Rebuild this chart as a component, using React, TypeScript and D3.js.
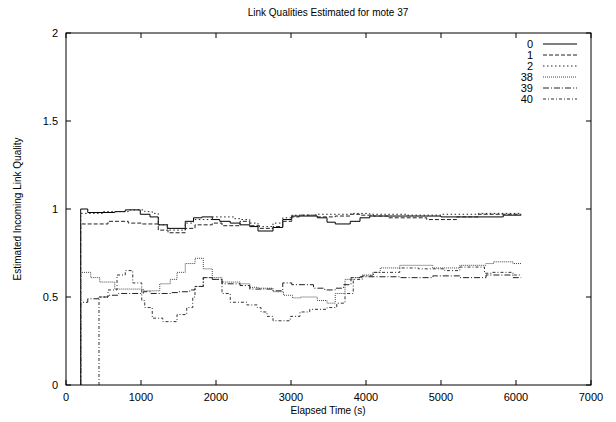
import React from 'react';
import * as d3 from 'd3';

const W = 616;
const H = 422;

const titleText = 'Link Qualities Estimated for mote 37';
const xLabel = 'Elapsed Time (s)';
const yLabel = 'Estimated Incoming Link Quality';

const xTicks = [0, 1000, 2000, 3000, 4000, 5000, 6000, 7000];
const yTicks = [0, 0.5, 1, 1.5, 2];
const yTickLabels = ['0', '0.5', '1', '1.5', '2'];

const seriesNames = ['0', '1', '2', '38', '39', '40'];
const endTime = 6070;

const s0: [number, number][] = [
  [196, 1.0], [290, 0.98], [650, 0.985], [790, 0.995], [990, 0.97], [1120, 0.955],
  [1230, 0.91], [1350, 0.89], [1590, 0.93], [1700, 0.95], [1810, 0.955], [1950, 0.94],
  [2050, 0.93], [2190, 0.92], [2320, 0.91], [2450, 0.9], [2560, 0.875], [2760, 0.895],
  [2890, 0.94], [3010, 0.96], [3350, 0.95], [3480, 0.925], [3590, 0.915], [3790, 0.93],
  [3920, 0.95], [4050, 0.96], [5000, 0.955], [5830, 0.965],
];
const s1: [number, number][] = [
  [196, 0.915], [560, 0.93], [830, 0.92], [1010, 0.915], [1230, 0.88], [1360, 0.865],
  [1590, 0.89], [1720, 0.91], [1950, 0.92], [2080, 0.905], [2320, 0.93], [2450, 0.905],
  [2580, 0.89], [2760, 0.9], [2890, 0.93], [3010, 0.955], [3110, 0.965], [3350, 0.955],
  [3590, 0.96], [3790, 0.97], [3920, 0.965], [4100, 0.96], [4300, 0.95], [4810, 0.94],
  [5210, 0.955], [5500, 0.97],
];
const s2: [number, number][] = [
  [196, 0.975], [500, 0.985], [830, 0.995], [1050, 0.985], [1150, 0.975], [1230, 0.91],
  [1360, 0.88], [1590, 0.92], [1700, 0.94], [1950, 0.955], [2250, 0.945], [2320, 0.94],
  [2450, 0.92], [2560, 0.9], [2760, 0.92], [2890, 0.95], [3010, 0.965], [3350, 0.97],
  [3800, 0.975], [4050, 0.97], [4540, 0.965], [5000, 0.97], [5500, 0.975],
];
const s38: [number, number][] = [
  [196, 0.64], [330, 0.61], [450, 0.585], [650, 0.545], [1030, 0.535], [1250, 0.575],
  [1390, 0.6], [1480, 0.64], [1590, 0.69], [1720, 0.72], [1830, 0.66], [1950, 0.61],
  [2080, 0.585], [2320, 0.575], [2450, 0.555], [2560, 0.55], [2760, 0.53], [2900, 0.51],
  [3020, 0.495], [3130, 0.5], [3350, 0.48], [3480, 0.465], [3590, 0.52], [3720, 0.6],
  [3830, 0.61], [3950, 0.625], [4090, 0.64], [4190, 0.665], [4450, 0.68], [4890, 0.665],
  [5250, 0.68], [5600, 0.69], [5700, 0.7], [5960, 0.69],
];
const s39: [number, number][] = [
  [196, 0.47], [290, 0.49], [430, 0.5], [560, 0.51], [700, 0.52], [1030, 0.53],
  [1130, 0.52], [1400, 0.525], [1500, 0.53], [1650, 0.54], [1720, 0.56], [1830, 0.61],
  [1950, 0.6], [2080, 0.575], [2320, 0.565], [2450, 0.545], [2760, 0.535], [2890, 0.58],
  [3010, 0.57], [3300, 0.55], [3450, 0.54], [3590, 0.55], [3700, 0.57], [3800, 0.61],
  [3920, 0.615], [4450, 0.61], [4890, 0.62], [5250, 0.61], [5600, 0.625], [5960, 0.61],
];
const s40: [number, number][] = [
  [440, 0.5], [560, 0.54], [680, 0.625], [790, 0.65], [890, 0.58], [1010, 0.48],
  [1050, 0.44], [1150, 0.38], [1290, 0.36], [1480, 0.4], [1610, 0.44], [1690, 0.5],
  [1720, 0.56], [1830, 0.61], [1950, 0.6], [2080, 0.52], [2190, 0.47], [2410, 0.455],
  [2550, 0.44], [2600, 0.415], [2680, 0.39], [2760, 0.365], [2990, 0.39], [3120, 0.415],
  [3250, 0.43], [3480, 0.44], [3610, 0.465], [3720, 0.52], [3830, 0.6], [3950, 0.62],
  [4100, 0.64], [4450, 0.665], [4700, 0.66], [5050, 0.65], [5250, 0.67], [5580, 0.635],
  [5690, 0.64], [5960, 0.625],
];

const allSeries = [s0, s1, s2, s38, s39, s40];
const dashStyles = ['', '4,2', '1.5,2.5', '1,1', '6,2,1,2', '3,2,1,2'];
const strokeColors = ['#000', '#222', '#222', '#444', '#222', '#333'];

const FONT = '"Liberation Sans", Arial, Helvetica, sans-serif';

export default function App() {
  const left = 66, right = 591, top = 33, bottom = 385;
  const x = d3.scaleLinear().domain([0, 7000]).range([left, right]);
  const y = d3.scaleLinear().domain([0, 2]).range([bottom, top]);
  const line = d3
    .line<[number, number]>()
    .x((d) => x(d[0]))
    .y((d) => y(d[1]))
    .curve(d3.curveStepAfter);

  const paths = allSeries.map((s) => {
    const pts: [number, number][] = [[s[0][0], 0], ...s, [endTime, s[s.length - 1][1]]];
    return line(pts) || '';
  });

  const tickLen = 5;
  const legendX = 533;
  const legendY0 = 44;
  const legendDy = 11;

  return (
    <svg
      width={W}
      height={H}
      style={{ position: 'absolute', left: 0, top: 0, background: '#fff' }}
      fontFamily={FONT}
    >
      <rect x={0} y={0} width={W} height={H} fill="#fff" />
      <text x={328} y={16} fontSize={10} textAnchor="middle" fill="#000">{titleText}</text>
      {/* data */}
      <g fill="none">
        {paths.map((d, i) => (
          <path
            key={i}
            d={d}
            stroke={strokeColors[i]}
            strokeWidth={1}
            strokeDasharray={dashStyles[i] || undefined}
          />
        ))}
      </g>
      {/* frame */}
      <rect x={left} y={top} width={right - left} height={bottom - top} fill="none" stroke="#000" strokeWidth={1} />
      {/* x ticks */}
      {xTicks.map((t) => (
        <g key={'x' + t}>
          <line x1={x(t)} x2={x(t)} y1={bottom} y2={bottom - tickLen} stroke="#000" />
          <line x1={x(t)} x2={x(t)} y1={top} y2={top + tickLen} stroke="#000" />
          <text x={x(t)} y={401} fontSize={11} textAnchor="middle" fill="#000">{t}</text>
        </g>
      ))}
      {yTicks.map((v, i) => (
        <g key={'y' + v}>
          <line x1={left} x2={left + tickLen} y1={y(v)} y2={y(v)} stroke="#000" />
          <line x1={right} x2={right - tickLen} y1={y(v)} y2={y(v)} stroke="#000" />
          <text x={58} y={y(v) + 4} fontSize={11} textAnchor="end" fill="#000">{yTickLabels[i]}</text>
        </g>
      ))}
      <text x={328} y={414} fontSize={10} textAnchor="middle" fill="#000">{xLabel}</text>
      <text
        transform={`translate(21, ${(top + bottom) / 2}) rotate(-90)`}
        fontSize={10}
        textAnchor="middle"
        fill="#000"
      >
        {yLabel}
      </text>
      {/* legend */}
      {seriesNames.map((n, i) => (
        <g key={'l' + n}>
          <text x={legendX} y={legendY0 + i * legendDy + 4} fontSize={11} textAnchor="end" fill="#000">{n}</text>
          <line
            x1={543}
            x2={577}
            y1={legendY0 + i * legendDy}
            y2={legendY0 + i * legendDy}
            stroke={strokeColors[i]}
            strokeWidth={1}
            strokeDasharray={dashStyles[i] || undefined}
          />
        </g>
      ))}
    </svg>
  );
}
